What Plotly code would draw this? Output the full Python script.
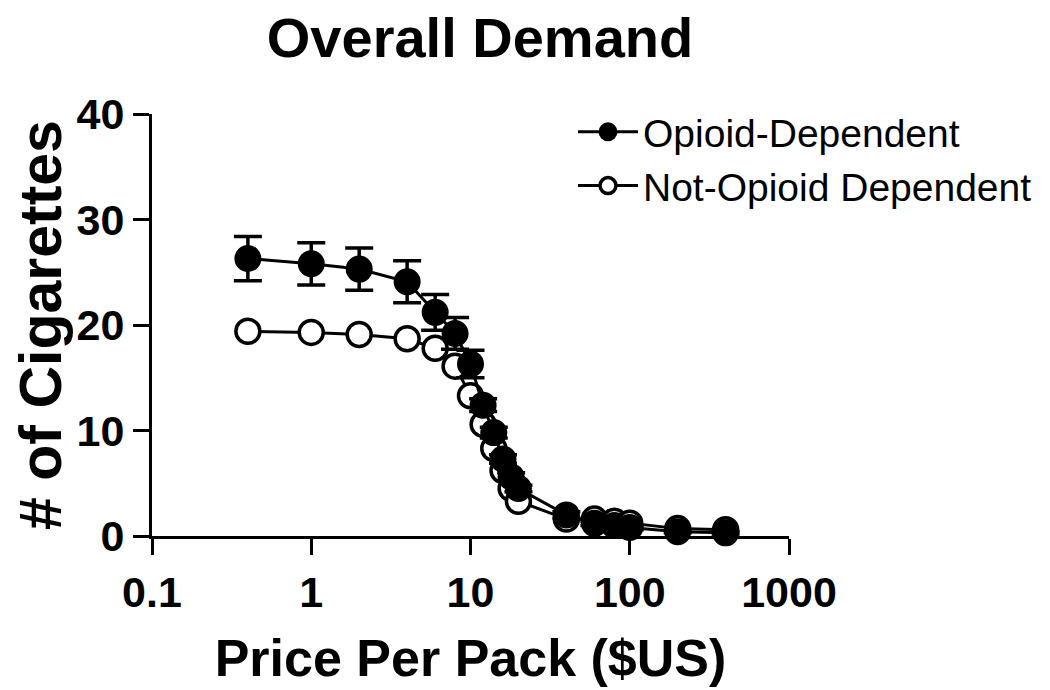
import plotly.graph_objects as go

# ---- data ----
prices = [0.4, 1, 2, 4, 6, 8, 10, 12, 14, 16, 18, 20, 40, 60, 80, 100, 200, 400]
od_mean = [26.3, 25.8, 25.3, 24.1, 21.2, 19.2, 16.3, 12.4, 9.8, 7.3, 5.6, 4.5,
           2.0, 1.2, 1.0, 0.8, 0.4, 0.3]
od_sem = [2.1, 2.0, 2.0, 2.0, 1.7, 1.5, 1.3, 0.6, 0.5, 0.4, 0.4, 0.3,
          0.3, 0.2, 0.2, 0.2, 0.1, 0.1]
nod_mean = [19.4, 19.3, 19.1, 18.7, 17.8, 16.1, 13.3, 10.6, 8.3, 6.2, 4.5, 3.3,
            1.6, 1.6, 1.4, 1.2, 0.7, 0.6]

x_tickvals = [0.1, 1, 10, 100, 1000]
x_ticktext = ["0.1", "1", "10", "100", "1000"]
y_tickvals = [0, 10, 20, 30, 40]
y_ticktext = ["0", "10", "20", "30", "40"]

FONT = "Liberation Sans, Arial, Helvetica, sans-serif"

fig = go.Figure()

fig.add_trace(go.Scatter(
    x=prices, y=nod_mean, name="Not-Opioid Dependent",
    mode="lines+markers",
    line=dict(color="black", width=3),
    marker=dict(symbol="circle", size=24, color="white",
                line=dict(color="black", width=3.5)),
    cliponaxis=False, legendrank=2,
))

fig.add_trace(go.Scatter(
    x=prices, y=od_mean, name="Opioid-Dependent",
    mode="lines+markers",
    line=dict(color="black", width=3),
    marker=dict(symbol="circle", size=24, color="black",
                line=dict(color="black", width=3)),
    error_y=dict(type="data", array=od_sem, visible=True,
                 color="black", thickness=3.5, width=14),
    cliponaxis=False, legendrank=1,
))

fig.update_layout(
    width=1050, height=690, autosize=False,
    paper_bgcolor="white", plot_bgcolor="white",
    margin=dict(l=144, r=269, t=106, b=162, autoexpand=False),
    font=dict(family=FONT, color="black"),
    title=dict(text="Overall Demand", x=472 / 1050, xanchor="center",
               xref="container", y=1 - 29 / 690, yanchor="middle",
               yref="container",
               font=dict(size=56, weight="bold", family=FONT, color="black")),
    showlegend=True,
    legend=dict(xref="container", yref="container",
                x=565 / 1050, y=1 - 92 / 690, xanchor="left", yanchor="top",
                font=dict(size=39, family=FONT, color="black"),
                bgcolor="rgba(0,0,0,0)", itemwidth=60, tracegroupgap=0),
)

fig.update_xaxes(
    type="log", range=[-1, 3],
    tickvals=x_tickvals, ticktext=x_ticktext,
    ticks="outside", ticklen=16, tickwidth=3, tickcolor="black",
    showline=True, linewidth=3, linecolor="black",
    showgrid=False, zeroline=False, layer="below traces",
    tickfont=dict(size=43, weight="bold", family=FONT, color="black"),
    title=dict(text="Price Per Pack ($US)", standoff=26,
               font=dict(size=52, weight="bold", family=FONT, color="black")),
)

fig.update_yaxes(
    range=[0, 40],
    tickvals=y_tickvals, ticktext=y_ticktext,
    ticks="outside", ticklen=16, tickwidth=3, tickcolor="black",
    showline=True, linewidth=3, linecolor="black",
    showgrid=False, zeroline=False, layer="below traces",
    tickfont=dict(size=43, weight="bold", family=FONT, color="black"),
    title=dict(text="# of Cigarettes", standoff=14,
               font=dict(size=59, weight="bold", family=FONT, color="black")),
)

fig.write_html("out.html")
